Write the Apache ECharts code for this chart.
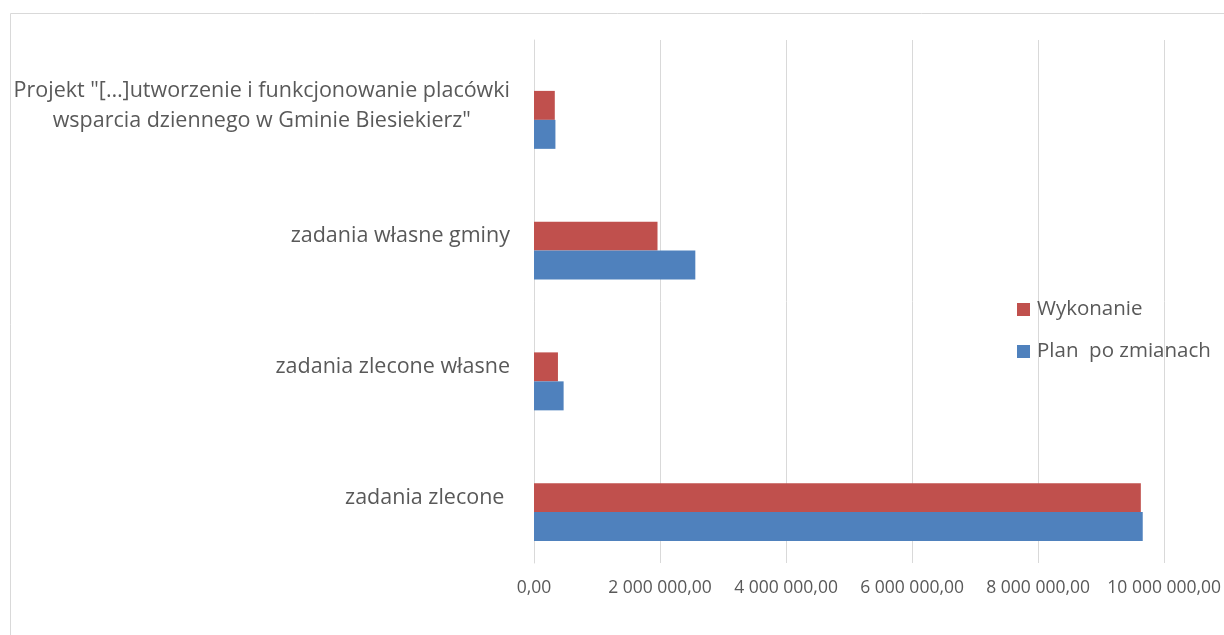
<!DOCTYPE html>
<html>
<head>
<meta charset="utf-8">
<script src="https://cdn.jsdelivr.net/npm/echarts@6/dist/echarts.min.js"></script>
<style>html,body{margin:0;padding:0;background:#fff;}#c{width:1224px;height:635px;}</style>
</head>
<body>
<div id="c"></div>
<script>
const categories = ['zadania zlecone ', 'zadania zlecone własne', 'zadania własne gminy', 'Projekt "[…]utworzenie i funkcjonowanie placówki\nwsparcia dziennego w Gminie Biesiekierz"'];
const planValues = [9660000, 470000, 2560000, 340000];
const wykonanieValues = [9630000, 380000, 1960000, 330000];
const emptyValues = [null, null, null, null];
const seriesNames = ['Plan  po zmianach', 'Wykonanie'];
const xTicks = [0, 2000000, 4000000, 6000000, 8000000, 10000000];

const FONT = 'Open Sans';
function fmt(v) {
  const s = Math.round(v).toString().replace(/\B(?=(\d{3})+(?!\d))/g, ' ');
  return s + ',00';
}
const chart = echarts.init(document.getElementById('c'));
chart.setOption({
  animation: false,
  textStyle: { fontFamily: FONT },
  graphic: [{ type: 'rect', shape: { x: 10.5, y: 13.5, width: 1400, height: 800 }, style: { fill: 'none', stroke: '#d9d9d9', lineWidth: 1 }, silent: true }],
  grid: { left: 534, right: 59, top: 40, bottom: 72 },
  legend: {
    orient: 'vertical', left: 1012, top: 294,
    data: ['Wykonanie', 'Plan  po zmianach'],
    icon: 'rect', itemWidth: 13, itemHeight: 13, itemGap: 21,
    textStyle: { fontSize: 20.5, lineHeight: 20, color: '#595959', fontFamily: FONT, padding: [0, 0, 0, 2] }
  },
  xAxis: {
    type: 'value', min: xTicks[0], max: xTicks[xTicks.length - 1], interval: xTicks[1] - xTicks[0],
    axisLine: { show: false }, axisTick: { show: false },
    splitLine: { lineStyle: { color: '#d9d9d9', width: 1 } },
    axisLabel: { formatter: fmt, color: '#595959', fontSize: 17.5, margin: 16, fontFamily: FONT }
  },
  yAxis: {
    type: 'category', data: categories,
    axisLine: { show: true, lineStyle: { color: '#d9d9d9' } },
    axisTick: { show: false },
    axisLabel: {
      margin: 24, color: '#595959', fontSize: 21.5, fontFamily: FONT, lineHeight: 30,
      formatter: function (v) { return v.split('\n').map(l => '{c|' + l + '}').join('\n'); },
      rich: { c: { align: 'center', fontSize: 21.5, color: '#595959', fontFamily: FONT, lineHeight: 30, whiteSpace: 'pre' } }
    }
  },
  series: [
    { name: 'hidden', type: 'bar', data: emptyValues, barGap: '0%', barCategoryGap: '33.5%', itemStyle: { color: 'transparent' } },
    { name: seriesNames[1], type: 'bar', data: wykonanieValues, itemStyle: { color: '#C0504D' } },
    { name: seriesNames[0], type: 'bar', data: planValues, itemStyle: { color: '#4F81BD' } }
  ]
});
</script>
</body>
</html>
